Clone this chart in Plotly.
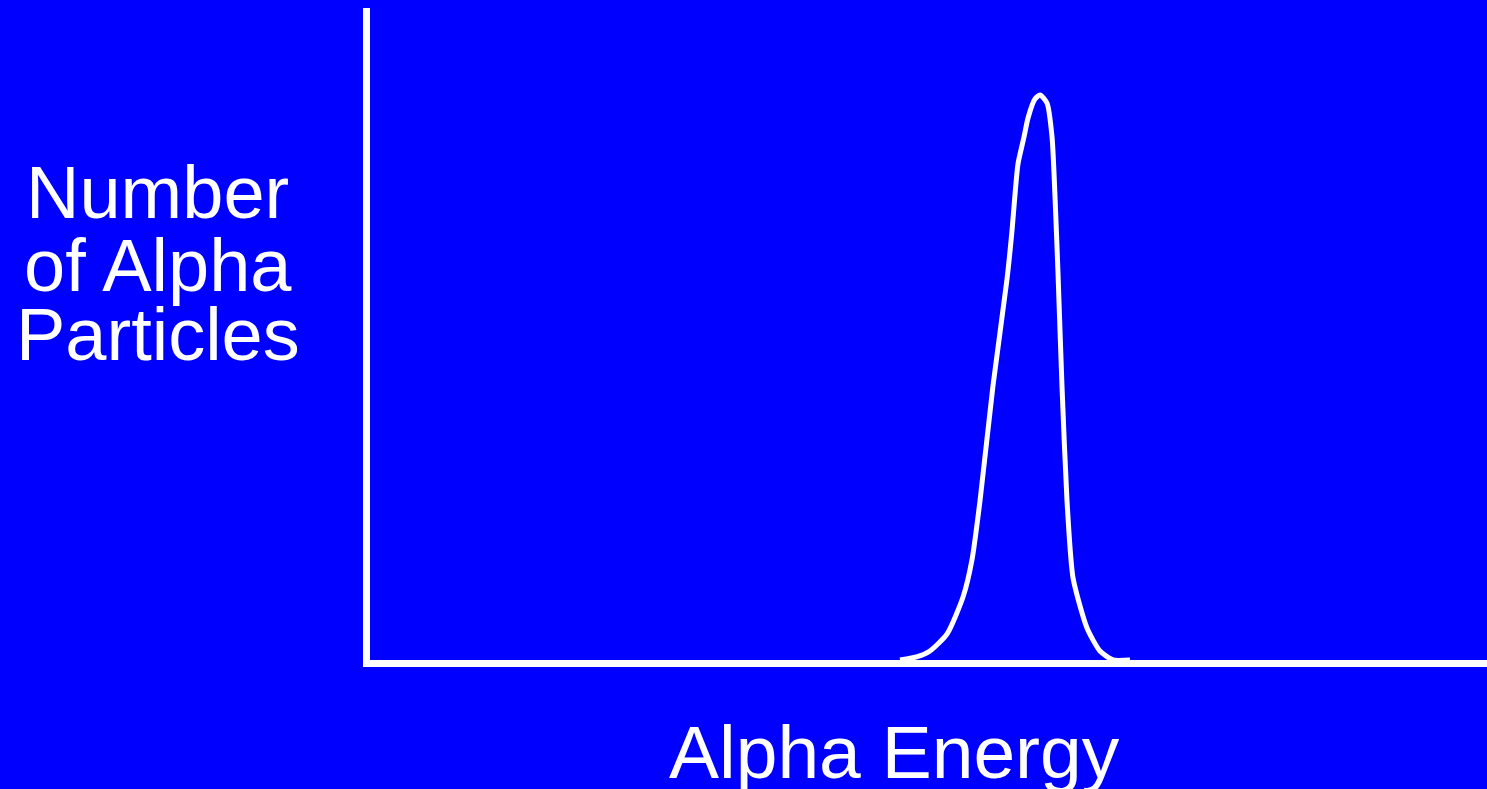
import plotly.graph_objects as go

# Alpha energy spectrum (arbitrary units)
energy = [47.45, 49.0, 50.13, 51.66, 53.09, 53.89, 54.61, 55.77, 57.03, 57.48, 57.74, 58.01,
          58.55, 58.91, 59.53, 59.98, 60.61, 61.06, 61.32, 61.59, 61.95, 62.40, 62.94,
          64.19, 65.35, 66.52, 68.05]
counts = [0, 0.5, 1.38, 3.99, 9.66, 15.34, 24.39, 42.02, 58.44, 65.95, 71.32, 76.07,
          80.21, 83.13, 86.04, 86.66, 85.43, 80.21, 71.32, 59.51, 42.02, 24.39, 12.58,
          4.91, 1.38, 0, 0]

y_label_lines = ["Number", "of Alpha", "Particles"]
x_label = "Alpha Energy"

BLUE = "#0000FF"
FONT = "Liberation Sans, Arial, sans-serif"

fig = go.Figure()
fig.add_trace(go.Scatter(
    x=energy, y=counts, mode="lines",
    line=dict(color="white", width=5, shape="spline", smoothing=0.6),
    hoverinfo="skip", showlegend=False,
))

fig.update_layout(
    width=1487, height=789,
    margin=dict(l=370, r=0, t=8, b=129),
    paper_bgcolor=BLUE, plot_bgcolor=BLUE,
    xaxis=dict(range=[0, 100], showgrid=False, zeroline=False, showticklabels=False,
               ticks="", showline=True, linecolor="white", linewidth=7, fixedrange=True),
    yaxis=dict(range=[0, 100], showgrid=False, zeroline=False, showticklabels=False,
               ticks="", showline=True, linecolor="white", linewidth=7, fixedrange=True),
    showlegend=False,
)

y_positions = [0.7163, 0.6058, 0.4985]
for txt, yp in zip(y_label_lines, y_positions):
    fig.add_annotation(text=txt, xref="paper", yref="paper", x=-0.1898, y=yp,
                       xanchor="center", yanchor="middle", showarrow=False,
                       font=dict(family=FONT, size=74, color="white"))

fig.add_annotation(text=x_label, xref="paper", yref="paper", x=0.470, y=-0.141,
                   xanchor="center", yanchor="middle", showarrow=False,
                   font=dict(family=FONT, size=75, color="white"))

fig.write_html("out.html", config={"displayModeBar": False},
               post_script="document.body.style.margin='0';document.body.style.overflow='hidden';")
